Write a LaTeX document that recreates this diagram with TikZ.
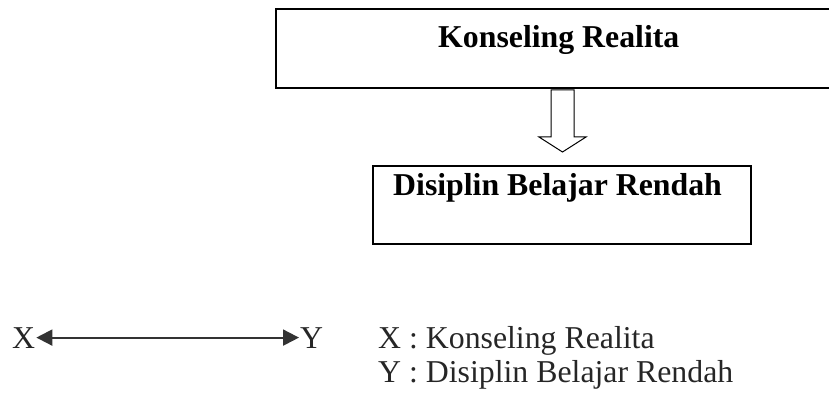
\documentclass[tikz,border=0pt]{standalone}
\usepackage{fontspec}
\setmainfont{Liberation Serif}
\usetikzlibrary{arrows.meta}
\begin{document}
\begin{tikzpicture}[x=1pt,y=-1pt,
  boxline/.style={draw=black,line width=2pt,inner sep=0pt,anchor=north west},
  bigtext/.style={font=\fontsize{31.8}{38}\selectfont\bfseries,inner sep=0pt,anchor=base west,text=black},
  legtext/.style={font=\fontsize{31.8}{38}\selectfont,inner sep=0pt,anchor=base west,text=black!85},
  hollow/.style={draw=black,line width=1pt,fill=white,line join=miter}]
\useasboundingbox (0,0) rectangle (829,398);
\clip (0,0) rectangle (829,398);
% boxes
\node[boxline,minimum width=600pt,minimum height=79pt] (box1) at (275,8) {};
\node[boxline,minimum width=378pt,minimum height=78pt] (box2) at (372,165) {};
\node[bigtext] (t1) at (438,48) {Konseling Realita};
\node[bigtext] (t2) at (393,195) {Disiplin Belajar Rendah};
% hollow arrow
\draw[hollow] (551,90) -- (551,137) -- (539,137) -- (562.5,152) -- (586,137) -- (574,137) -- (574,90) -- cycle;
% legend
\node[legtext,inner xsep=1pt] (x) at (11,348) {X};
\node[legtext,inner xsep=1pt] (y) at (299,348) {Y};
\draw[draw=black!80,line width=2pt,{Triangle[length=16pt,width=16pt]}-{Triangle[length=16pt,width=16pt]}] (x.east) -- (y.west);
\node[legtext] (lx) at (378,348) {X : Konseling Realita};
\node[legtext] (ly) at (378,382) {Y : Disiplin Belajar Rendah};
\end{tikzpicture}
\end{document}
